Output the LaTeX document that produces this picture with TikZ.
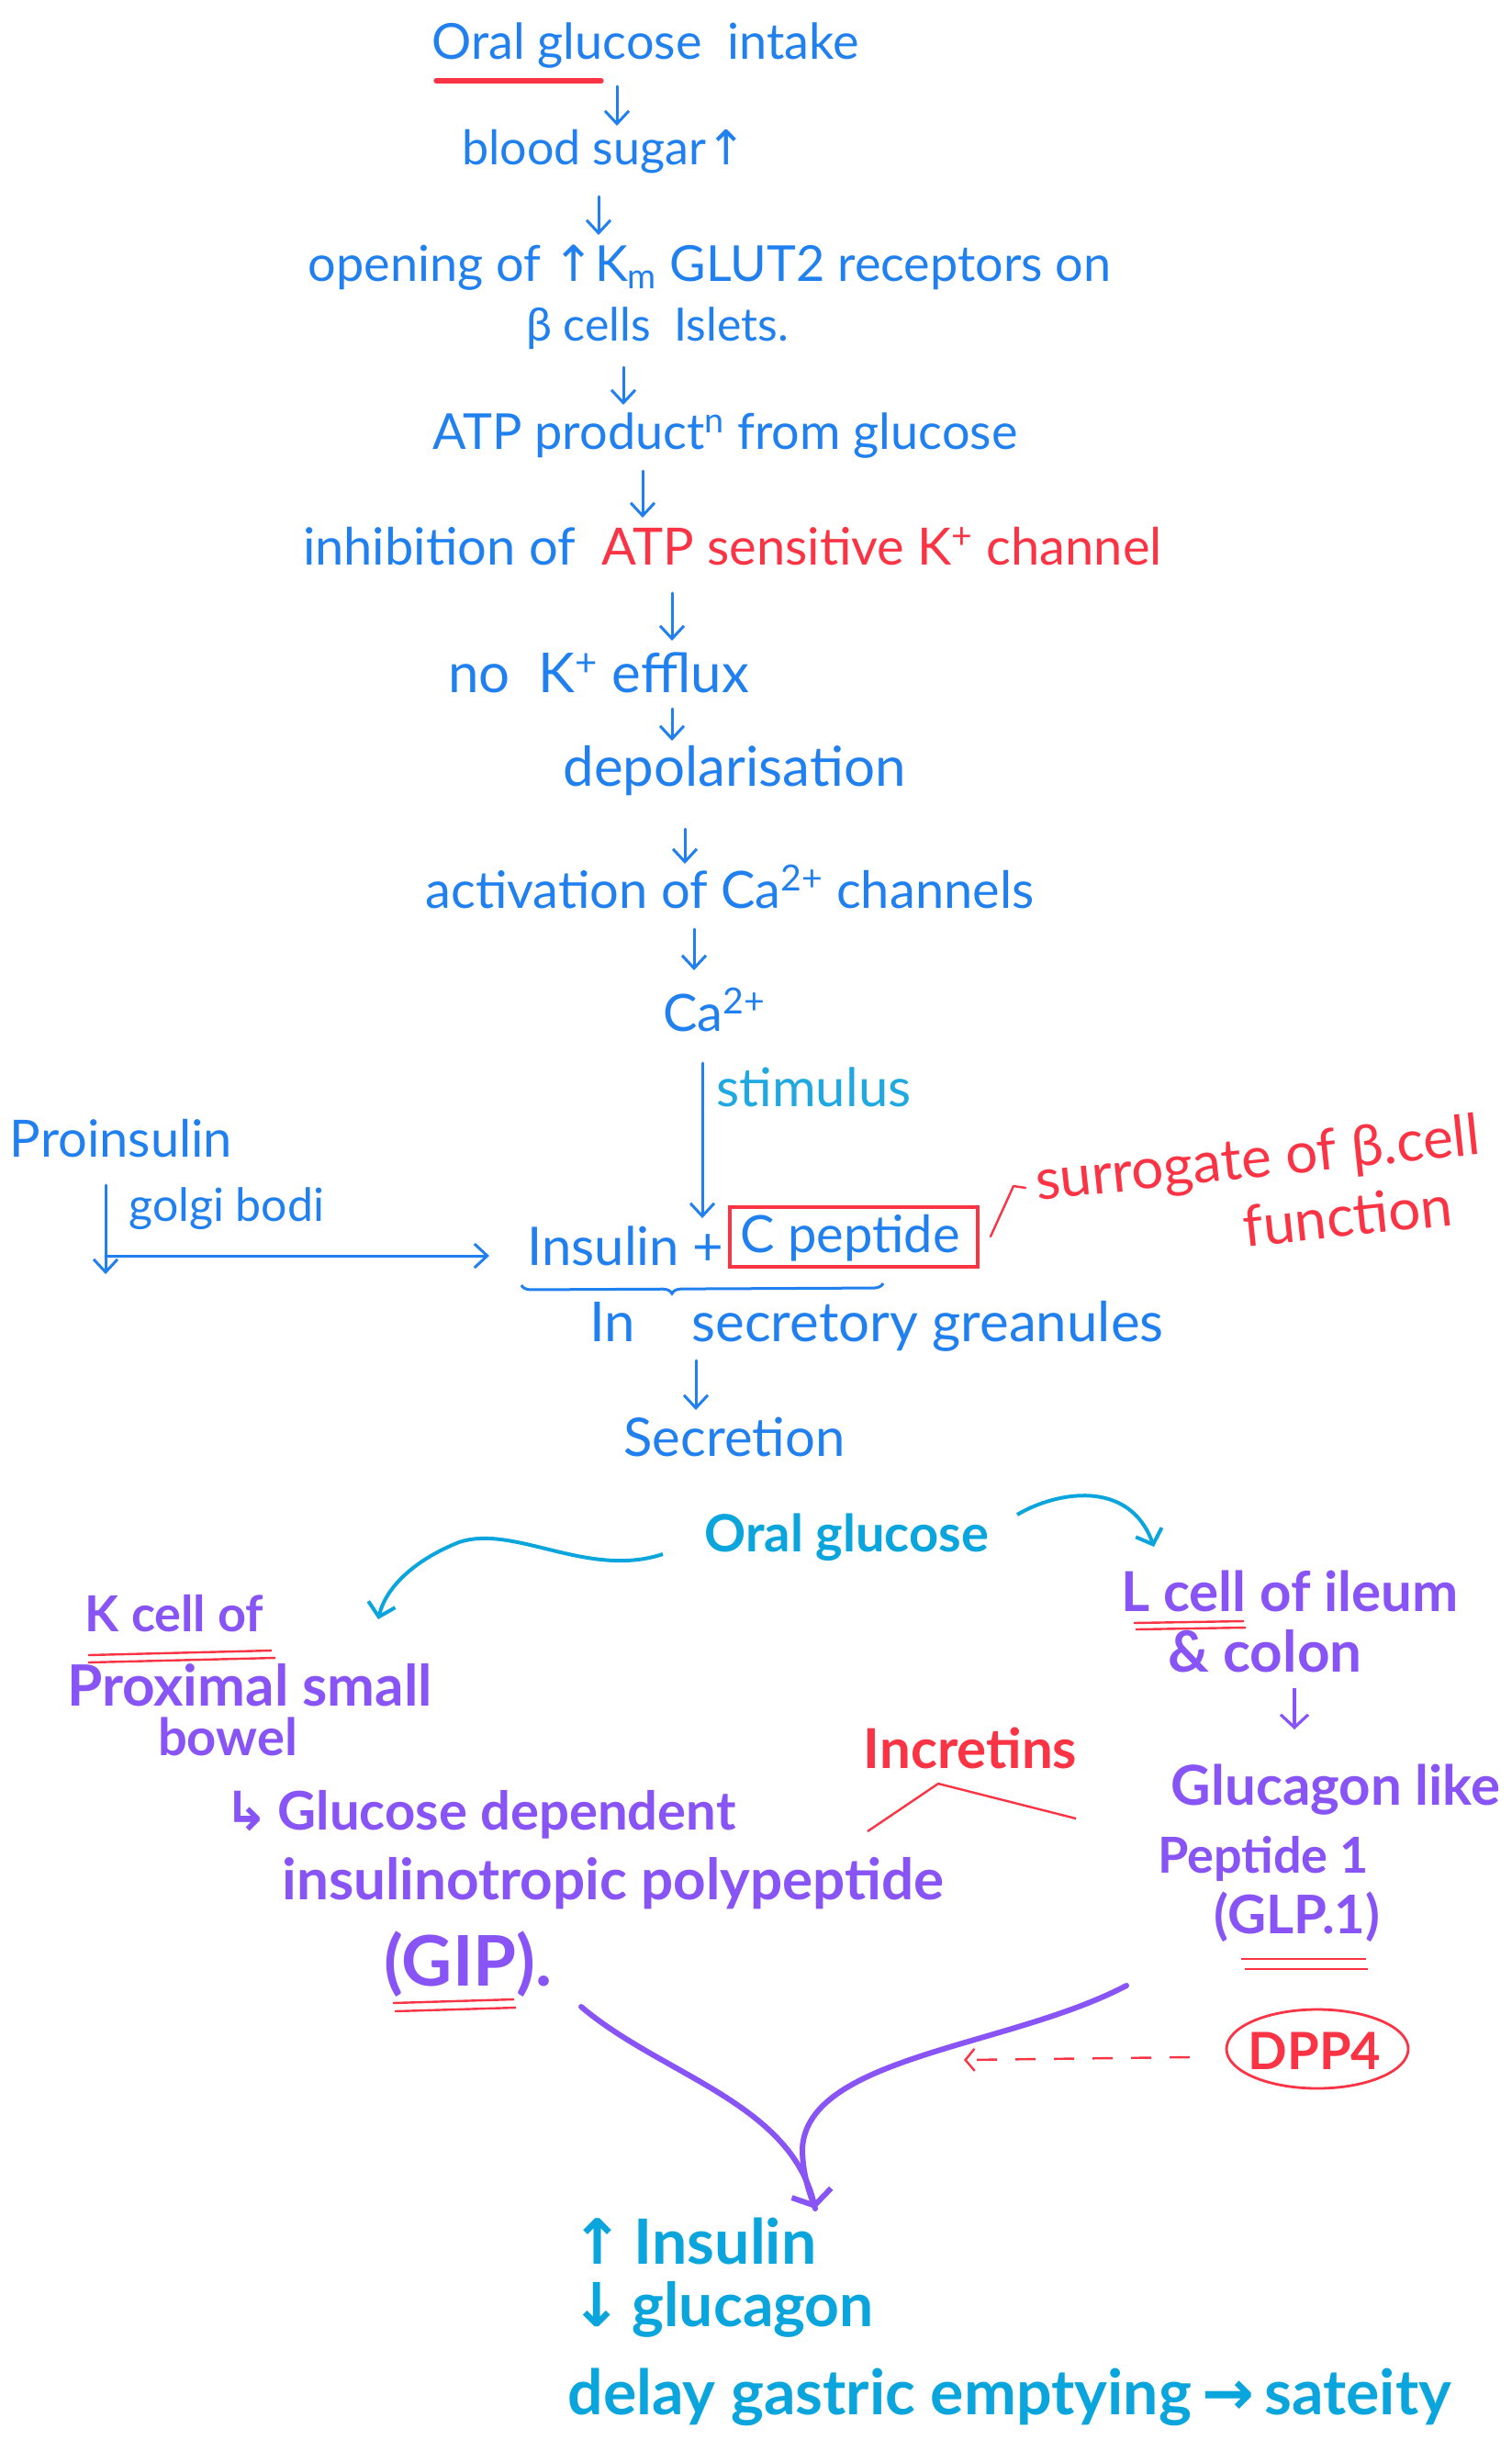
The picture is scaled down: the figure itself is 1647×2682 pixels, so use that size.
\documentclass[tikz,border=0pt]{standalone}
\usepackage{fontspec}
\setmainfont{Lato}
\newfontfamily\arrfont{DejaVu Sans}
\usetikzlibrary{arrows.meta,decorations.pathreplacing,shapes.geometric}
\definecolor{blu}{RGB}{32,128,240}
\definecolor{rd}{RGB}{250,52,68}
\definecolor{pur}{RGB}{136,84,245}
\definecolor{teal2}{RGB}{10,165,220}
\definecolor{stim}{RGB}{32,168,224}
\newcommand{\fs}[1]{\fontsize{#1}{#1}\selectfont}
\newcommand{\myuar}{{\arrfont ↑}}
\newcommand{\mydar}{{\arrfont ↓}}
\newcommand{\myrar}{{\arrfont →}}
\newcommand{\myhook}{{\arrfont ↳}}
\tikzset{
  txt/.style={inner sep=0pt, align=center, text=blu},
  ptxt/.style={inner sep=0pt, align=center, text=pur},
  ttxt/.style={inner sep=0pt, align=left, text=teal2},
  arr/.style={draw=blu, line width=1.5pt, line cap=round, -{Straight Barb[length=7pt,width=13pt]}},
  redul/.style={draw=rd, line width=1.2pt},
}
\begin{document}
\begin{tikzpicture}[x=0.5pt,y=-0.5pt]
\useasboundingbox (0,0) rectangle (1647,2682);
\fill[white] (0,0) rectangle (1647,2682);

% ---- upper chain ----
\node[txt, font=\fs{27}] (n1) at (703,50) {Oral glucose\ \ intake};
\draw[rd, line width=2.6pt, line cap=round] (475,88) -- (655,88);
\node[txt, font=\fs{26}] (n2) at (658,165) {blood sugar\myuar};
\node[txt, font=\fs{27}] (n3) at (773,292) {opening of \myuar K\textsubscript{m} GLUT2 receptors on};
\node[txt, font=\fs{25}] (n3b) at (716,358) {β cells\ \ Islets.};
\node[txt, font=\fs{27}] (n4) at (790,475) {ATP product\textsuperscript{n} from glucose};
\node[txt, font=\fs{28}] (n5) at (798,595) {inhibition of\ \ \textcolor{rd}{ATP sensitive K\textsuperscript{+} channel}};
\node[txt, font=\fs{30}] (n6) at (652,733) {no\ \ K\textsuperscript{+} efflux};
\node[txt, font=\fs{30}] (n7) at (800,840) {depolarisation};
\node[txt, font=\fs{28}] (n8) at (795,966) {activation of Ca\textsuperscript{2+} channels};
\node[txt, font=\fs{28}] (n9) at (778,1100) {Ca\textsuperscript{2+}};

\coordinate (a1s) at (672,94);   \coordinate (a1e) at (672,137);
\coordinate (a2s) at (652,214);  \coordinate (a2e) at (652,256);
\coordinate (a3s) at (679,400);  \coordinate (a3e) at (679,441);
\coordinate (a4s) at (700,513);  \coordinate (a4e) at (700,564);
\coordinate (a5s) at (732,646);  \coordinate (a5e) at (732,698);
\coordinate (a6s) at (732,772);  \coordinate (a6e) at (732,807);
\coordinate (a7s) at (746,903);  \coordinate (a7e) at (746,941);
\coordinate (a8s) at (756,1012); \coordinate (a8e) at (756,1057);
\draw[arr] (a1s) -- (a1e);
\draw[arr] (a2s) -- (a2e);
\draw[arr] (a3s) -- (a3e);
\draw[arr] (a4s) -- (a4e);
\draw[arr] (a5s) -- (a5e);
\draw[arr] (a6s) -- (a6e);
\draw[arr] (a7s) -- (a7e);
\draw[arr] (a8s) -- (a8e);

% ---- insulin ----
\node[txt, font=\fs{29}, anchor=east] (ins) at (789,1357) {Insulin +};
\node[txt, font=\fs{28}] (cpep) at (926,1349) {C peptide};
\node[draw=rd, line width=1.6pt, minimum width=135pt, minimum height=32.5pt, inner sep=0pt] (cbox) at (930,1347.5) {};
\coordinate (stS) at (765,1158);
\coordinate (stE) at (765,1327);
\draw[arr] (stS) -- (stE);
\node[txt, text=stim, font=\fs{29}, anchor=west] (stim) at (780,1184) {stimulus};

\node[txt, font=\fs{28}] (pro) at (132,1240) {Proinsulin};
\node[txt, font=\fs{25}, anchor=west] (golgi) at (140,1317) {golgi bodi};
\coordinate (gtop) at (115,1291);
\coordinate (gbot) at (115,1388);
\coordinate (gmid) at (115,1368);
\coordinate (gend) at (533,1368);
\draw[arr] (gtop) -- (gbot);
\draw[arr] (gmid) -- (gend);

\draw[blu, line width=1.5pt, decorate, decoration={brace, amplitude=5pt, mirror, aspect=0.416}] (568,1400) -- (962,1398);
\node[txt, font=\fs{30}] (gran) at (955,1445) {In\ \ \ \ secretory greanules};
\node[txt, font=\fs{29}] (secr) at (800,1565) {Secretion};
\coordinate (s1) at (758,1482); \coordinate (s2) at (758,1536);
\draw[arr] (s1) -- (s2);

% surrogate
\coordinate (h1) at (1079,1347); \coordinate (h2) at (1104,1292); \coordinate (h3) at (1117,1294);
\draw[rd, line width=1.2pt, line cap=round, line join=round] (h1) -- (h2) -- (h3);
\node[txt, text=rd, font=\fontsize{31}{37}\selectfont, rotate=6, align=left, anchor=north west] (surr) at (1125,1262) {surrogate of β.cell\\\hspace*{110pt}function};

% ---- lower part ----
\node[ttxt, font=\fs{28}\bfseries] (og) at (922,1675) {Oral glucose};
\coordinate (t1) at (722,1693);
\coordinate (t1e) at (412,1764);
\coordinate (t2) at (1108,1650);
\coordinate (t2e) at (1257,1685);
\draw[teal2, line width=2pt, -{Straight Barb[length=7pt,width=15pt]}] (t1) .. controls (640,1720) and (560,1660) .. (500,1680) .. controls (450,1700) and (420,1730) .. (t1e);
\draw[teal2, line width=2pt, -{Straight Barb[length=7pt,width=15pt]}] (t2) .. controls (1150,1625) and (1230,1610) .. (t2e);

\node[ptxt, font=\fs{27}\bfseries] (kc) at (190,1758) {K cell of};
\draw[redul] (96,1803) -- (296,1798);
\draw[redul] (96,1811) -- (300,1806);
\node[ptxt, font=\fs{31}\bfseries] (prox) at (272,1836) {Proximal small};
\node[ptxt, font=\fs{28}\bfseries] (bow) at (248,1892) {bowel};

\node[ptxt, font=\fs{30}\bfseries] (lc) at (1405,1733) {L cell of ileum};
\draw[redul] (1235,1768) -- (1355,1766);
\draw[redul] (1237,1775) -- (1357,1773);
\node[ptxt, font=\fs{31}\bfseries] (col) at (1378,1799) {\& colon};
\coordinate (l1) at (1410,1839); \coordinate (l2) at (1410,1884);
\draw[draw=pur, line width=1.6pt, -{Straight Barb[length=7pt,width=15pt]}] (l1) -- (l2);

\node[ptxt, text=rd, font=\fs{30}\bfseries] (incr) at (1057,1904) {Incretins};
\coordinate (c1) at (945,1995); \coordinate (c2) at (1022,1943); \coordinate (c3) at (1172,1981);
\draw[rd, line width=1.2pt] (c1) -- (c2) -- (c3);

\node[ptxt, font=\fs{29}\bfseries] (gdep) at (523,1977) {\myhook\,Glucose dependent};
\node[ptxt, font=\fs{31}\bfseries] (ins2) at (668,2052) {insulinotropic polypeptide};
\node[ptxt, font=\fs{38}\bfseries] (gip) at (510,2140) {(GIP).};
\draw[redul] (428,2182) -- (560,2178);
\draw[redul] (430,2191) -- (562,2187);

\node[ptxt, font=\fs{30}\bfseries] (glp) at (1455,1950) {Glucagon like};
\node[ptxt, font=\fs{27}\bfseries] (pep) at (1376,2025) {Peptide 1};
\node[ptxt, font=\fs{29}\bfseries] (glp1) at (1413,2088) {(GLP.1)};
\draw[redul] (1352,2134) -- (1488,2134);
\draw[redul] (1356,2145) -- (1490,2145);

% merging arrow
\coordinate (tip) at (888,2406);
\coordinate (lstart) at (633,2186);
\coordinate (rstart) at (1227,2163);
\draw[pur, line width=3pt, line cap=round] (rstart) .. controls (1100,2230) and (880,2240) .. (874,2340) .. controls (874,2365) and (880,2385) .. (tip);
\draw[pur, line width=3pt, line cap=round, -{Straight Barb[length=7pt,width=22pt]}] (lstart) .. controls (720,2260) and (860,2290) .. (tip);

\node[inner sep=0pt, text=rd, font=\fs{28}\bfseries] (dpp) at (1432,2234) {DPP4};
\draw[rd, line width=1.4pt] (dpp.center) ++(3,-2) ellipse [x radius=99, y radius=43];
\coordinate (dps) at (1296,2241);
\coordinate (dpe) at (1050,2244);
\draw[rd, line width=1.2pt, dash pattern=on 11pt off 10pt, -{Straight Barb[length=5pt,width=12pt]}] (dps) -- (dpe);

\node[ttxt, font=\fs{34}\bfseries, anchor=base west] (r1) at (622,2466) {\myuar\,Insulin};
\node[ttxt, font=\fs{33}\bfseries, anchor=base west] (r2) at (622,2534) {\mydar\,glucagon};
\node[ttxt, font=\fs{34}\bfseries, anchor=base west] (r3) at (618,2630) {delay gastric emptying\,\myrar\,sateity};
\end{tikzpicture}
\end{document}
